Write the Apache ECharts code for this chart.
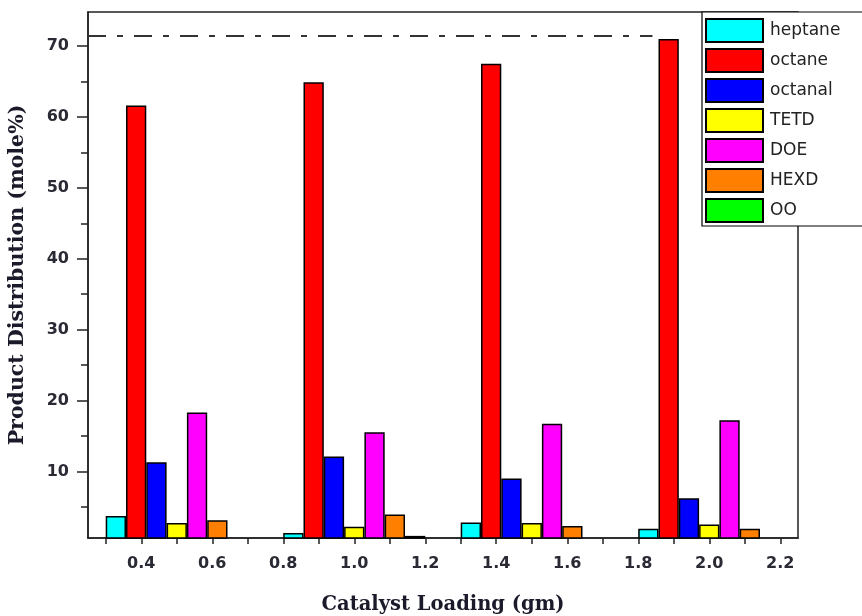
<!DOCTYPE html>
<html>
<head>
<meta charset="utf-8">
<script src="https://cdn.jsdelivr.net/npm/echarts@6/dist/echarts.min.js"></script>
<style>
  html, body { margin: 0; padding: 0; background: #fff; }
  #chart { width: 862px; height: 616px; }
</style>
</head>
<body>
<div id="chart"></div>
<script>
// Catalyst loading (gm) for each group of bars
const loadings = [0.5, 1.0, 1.5, 2.0];

// Product distribution (mole %) per compound
const heptane = [3.7, 1.3, 2.8, 1.9];
const octane  = [61.6, 64.9, 67.5, 71.0];
const octanal = [11.3, 12.1, 9.0, 6.2];
const tetd    = [2.7, 2.2, 2.7, 2.5];
const doe     = [18.3, 15.5, 16.7, 17.2];
const hexd    = [3.1, 3.9, 2.3, 1.9];
const oo      = [null, 0.9, null, null];

const seriesNames = ['heptane', 'octane', 'octanal', 'TETD', 'DOE', 'HEXD', 'OO'];
const seriesValues = [heptane, octane, octanal, tetd, doe, hexd, oo];
const seriesColors = ['#00ffff', '#ff0000', '#0000ff', '#ffff00', '#ff00ff', '#ff8000', '#00ff00'];

// Axis ticks and labels
const xLabelValues = [0.4, 0.6, 0.8, 1.0, 1.2, 1.4, 1.6, 1.8, 2.0, 2.2];
const xTickValues = [0.3, 0.4, 0.5, 0.6, 0.7, 0.8, 0.9, 1.0, 1.1, 1.2, 1.3, 1.4, 1.5, 1.6, 1.7, 1.8, 1.9, 2.0, 2.1, 2.2];
const yMajorValues = [10, 20, 30, 40, 50, 60, 70];
const yMinorValues = [5, 15, 25, 35, 45, 55, 65];

// Reference level for the dash-dot line and its horizontal span
const refLevel = 71.5;
const refSpan = [0.25, 1.84];

const chart = echarts.init(document.getElementById('chart'), null, { renderer: 'canvas' });

const axisColor = '#222';
const labelFont = { fontFamily: 'DejaVu Sans', fontWeight: 'bold', fontSize: 16, color: '#2a2a35' };
const titleFont = { fontFamily: 'DejaVu Serif', fontWeight: 'bold', color: '#1a1a2a' };

const series = seriesNames.map((name, i) => ({
  name: name,
  type: 'bar',
  barWidth: 20.3,
  barGap: '0%',
  itemStyle: { color: seriesColors[i], borderColor: '#000', borderWidth: 1.5 },
  data: loadings.map((x, j) => [x, seriesValues[i][j]])
}));

// Dash-dot reference line, carried by an empty line series so it is not shifted with the bars
series.push({
  name: 'reference',
  type: 'line',
  data: [],
  markLine: {
    silent: true,
    symbol: 'none',
    label: { show: false },
    lineStyle: { color: '#333', width: 2, type: [18, 11, 6, 11] },
    data: [[{ coord: [refSpan[0], refLevel] }, { coord: [refSpan[1], refLevel] }]]
  }
});

chart.setOption({
  animation: false,
  backgroundColor: '#fff',
  grid: {
    left: 88, top: 12, right: 64, bottom: 78,
    outerBoundsMode: 'none',
    containLabel: false,
    show: true, borderColor: axisColor, borderWidth: 1.5, backgroundColor: 'transparent'
  },
  legend: {
    orient: 'vertical',
    left: 702, top: 12,
    padding: [6, 80, 3, 3],
    itemWidth: 57, itemHeight: 23, itemGap: 5,
    icon: 'rect',
    backgroundColor: '#fff',
    borderColor: '#000', borderWidth: 1.2,
    borderRadius: 0,
    selectedMode: false,
    textStyle: { fontFamily: 'DejaVu Sans', fontSize: 17, lineHeight: 20, color: '#222', padding: [0, 0, 0, 2] },
    data: seriesNames
  },
  xAxis: {
    type: 'value',
    min: 0.25, max: 2.25,
    name: 'Catalyst Loading (gm)',
    nameLocation: 'middle',
    nameGap: 57,
    nameTextStyle: { ...titleFont, fontSize: 19.5 },
    axisLine: { show: true, onZero: false, lineStyle: { color: axisColor, width: 1.5 } },
    axisTick: { show: true, inside: false, length: 6, customValues: xTickValues, lineStyle: { color: axisColor, width: 1.5 } },
    axisLabel: { show: true, margin: 18, customValues: xLabelValues, formatter: v => v.toFixed(1), ...labelFont },
    splitLine: { show: false }
  },
  yAxis: [
    {
      type: 'value',
      min: 0.6, max: 74.8,
      position: 'left',
      name: 'Product Distribution (mole%)',
      nameLocation: 'middle',
      nameGap: 60,
      nameTextStyle: { ...titleFont, fontSize: 20.5 },
      axisLine: { show: true, onZero: false, lineStyle: { color: axisColor, width: 1.5 } },
      axisTick: { show: true, inside: false, length: 11, customValues: yMajorValues, lineStyle: { color: axisColor, width: 1.5 } },
      axisLabel: { show: true, margin: 19, customValues: yMajorValues, ...labelFont },
      splitLine: { show: false }
    },
    {
      type: 'value',
      min: 0.6, max: 74.8,
      position: 'left',
      axisLine: { show: false },
      axisTick: { show: true, inside: false, length: 7, customValues: yMinorValues, lineStyle: { color: axisColor, width: 1.5 } },
      axisLabel: { show: false },
      splitLine: { show: false }
    }
  ],
  series: series
});
</script>
</body>
</html>
